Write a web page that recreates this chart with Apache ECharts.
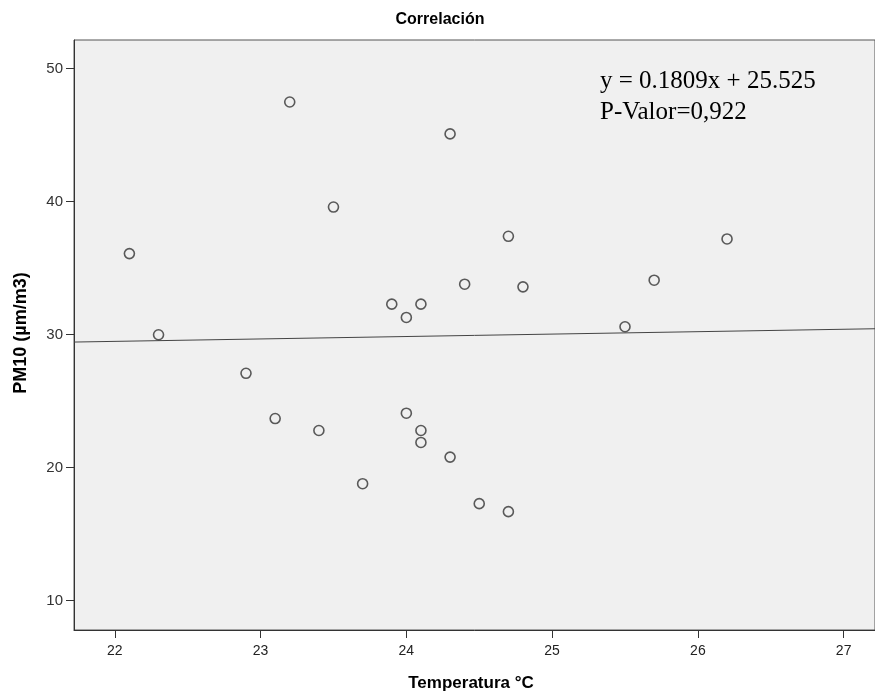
<!DOCTYPE html>
<html>
<head>
<meta charset="utf-8">
<script src="https://cdn.jsdelivr.net/npm/echarts@6/dist/echarts.min.js"></script>
<style>
html,body{margin:0;padding:0;background:#fff;}
#chart{width:875px;height:696px;}
</style>
</head>
<body>
<div id="chart"></div>
<script>
// Data
const temperatura = [23.2, 24.3, 23.5, 22.1, 23.9, 24.0, 24.1, 24.4, 22.3, 24.7, 24.8, 25.7, 26.2, 25.5, 22.9, 23.1, 23.4, 23.7, 24.0, 24.1, 24.1, 24.3, 24.5, 24.7];
const pm10 = [47.5, 45.1, 39.6, 36.1, 32.3, 31.3, 32.3, 33.8, 30.0, 37.4, 33.6, 34.1, 37.2, 30.6, 27.1, 23.7, 22.8, 18.8, 24.1, 22.8, 21.9, 20.8, 17.3, 16.7];
const fitLineX = [21.72, 27.215];
const fitLineY = [29.45, 30.45];
const xTicks = [22, 23, 24, 25, 26, 27];
const yTicks = [10, 20, 30, 40, 50];
const titleText = 'Correlación';
const xTitle = 'Temperatura °C';
const yTitle = 'PM10 (µm/m3)';
const annotation = ['y = 0.1809x + 25.525', 'P-Valor=0,922'];

const points = temperatura.map((t, i) => [t, pm10[i]]);
const fitLine = fitLineX.map((x, i) => [x, fitLineY[i]]);

const chart = echarts.init(document.getElementById('chart'), null, {renderer: 'canvas'});
const sans = "'Liberation Sans', Arial, sans-serif";
chart.setOption({
  animation: false,
  backgroundColor: '#ffffff',
  grid: {
    left: 74, top: 40, right: -2, bottom: 66,
    show: true, backgroundColor: '#F0F0F0', borderColor: '#555', borderWidth: 1
  },
  xAxis: {
    type: 'value', min: 21.72, max: 27.215,
    axisLine: {show: true, onZero: false, lineStyle: {color: '#333', width: 1}},
    axisTick: {show: true, length: 8, customValues: xTicks, lineStyle: {color: '#333'}},
    axisLabel: {show: true, customValues: xTicks, margin: 14, color: '#222', fontSize: 14, fontFamily: sans},
    splitLine: {show: false}
  },
  yAxis: {
    type: 'value', min: 7.8, max: 52.16,
    axisLine: {show: true, onZero: false, lineStyle: {color: '#333', width: 1}},
    axisTick: {show: true, length: 8, customValues: yTicks, lineStyle: {color: '#333'}},
    axisLabel: {show: true, customValues: yTicks, margin: 11, color: '#333', fontSize: 15, fontFamily: sans},
    splitLine: {show: false}
  },
  series: [
    {
      type: 'line', data: fitLine, symbol: 'none', silent: true,
      lineStyle: {color: '#444', width: 1}, z: 1
    },
    {
      type: 'scatter', data: points, symbol: 'circle', symbolSize: 10,
      itemStyle: {color: 'rgba(0,0,0,0)', borderColor: '#333', borderWidth: 1.6}, z: 2
    }
  ],
  graphic: [
    {type: 'text', x: 440, y: 20, style: {text: titleText, font: "bold 16px 'Liberation Sans', Arial, sans-serif", fill: '#000', align: 'center', verticalAlign: 'middle'}},
    {type: 'text', x: 471, y: 683, style: {text: xTitle, font: "bold 17px 'Liberation Sans', Arial, sans-serif", fill: '#000', align: 'center', verticalAlign: 'middle'}},
    {type: 'text', x: 21, y: 333, rotation: Math.PI / 2, style: {text: yTitle, font: "bold 18px 'Liberation Sans', Arial, sans-serif", fill: '#000', align: 'center', verticalAlign: 'middle'}},
    {type: 'text', x: 600, y: 81, style: {text: annotation[0], font: "25px 'Liberation Serif', 'Times New Roman', serif", fill: '#000', align: 'left', verticalAlign: 'middle'}},
    {type: 'text', x: 600, y: 112, style: {text: annotation[1], font: "25px 'Liberation Serif', 'Times New Roman', serif", fill: '#000', align: 'left', verticalAlign: 'middle'}}
  ]
});
</script>
</body>
</html>
